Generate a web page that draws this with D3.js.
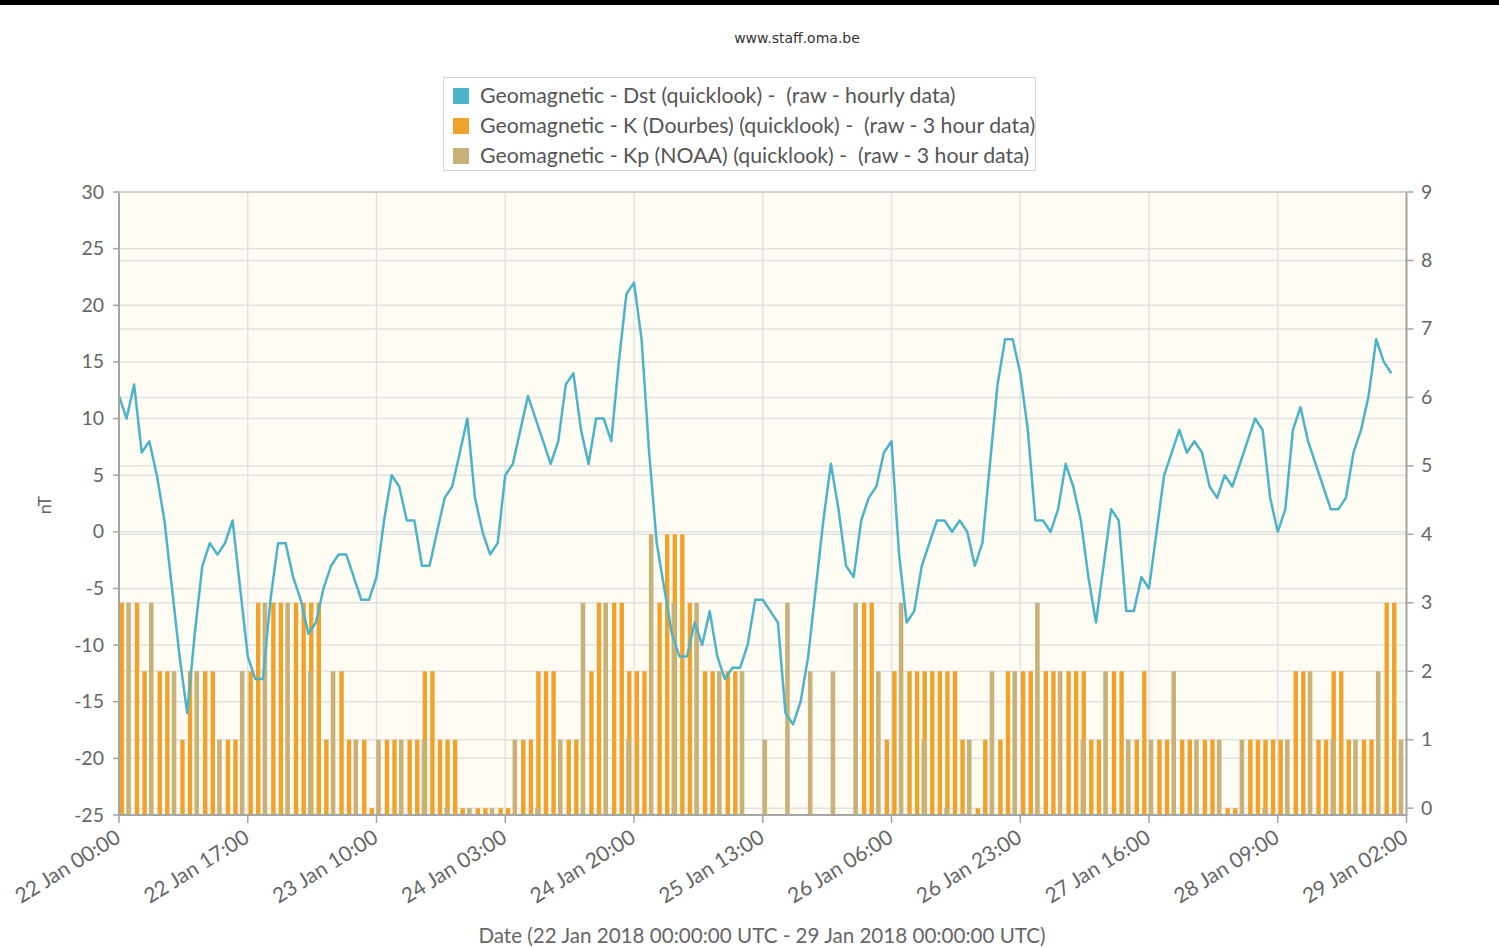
<!DOCTYPE html>
<html>
<head>
<meta charset="utf-8">
<script src="https://cdn.jsdelivr.net/npm/d3@7.9.0/dist/d3.min.js"></script>
<style>
  body { margin: 0; background: #fff; }
  svg { display: block; font-family: Lato, "Open Sans", sans-serif; }
  .pre { white-space: pre; }
</style>
</head>
<body>
<svg id="chart" width="1499" height="947"></svg>
<script>
// Dst (nT), hourly from 22 Jan 2018 00:00 UTC
const dstValues = [
  12, 10, 13, 7, 8, 5, 1, -5, -11, -16,
  -9, -3, -1, -2, -1, 1, -5, -11, -13, -13,
  -6, -1, -1, -4, -6, -9, -8, -5, -3, -2,
  -2, -4, -6, -6, -4, 1, 5, 4, 1, 1,
  -3, -3, 0, 3, 4, 7, 10, 3, 0, -2,
  -1, 5, 6, 9, 12, 10, 8, 6, 8, 13,
  14, 9, 6, 10, 10, 8, 15, 21, 22, 17,
  7, -1, -5, -9, -11, -11, -8, -10, -7, -11,
  -13, -12, -12, -10, -6, -6, -7, -8, -16, -17,
  -15, -11, -5, 1, 6, 2, -3, -4, 1, 3,
  4, 7, 8, -2, -8, -7, -3, -1, 1, 1,
  0, 1, 0, -3, -1, 6, 13, 17, 17, 14,
  9, 1, 1, 0, 2, 6, 4, 1, -4, -8,
  -3, 2, 1, -7, -7, -4, -5, 0, 5, 7,
  9, 7, 8, 7, 4, 3, 5, 4, 6, 8,
  10, 9, 3, 0, 2, 9, 11, 8, 6, 4,
  2, 2, 3, 7, 9, 12, 17, 15, 14
];

// K Dourbes, one value per hour slot (null = no bar visible)
const kValues = [
  3, null, 3, 2, null, 2, 2, null, 1, 2,
  null, 2, 2, null, 1, 1, null, 2, 3, null,
  3, 3, null, 3, 3, 3, 3, 1, null, 2,
  1, null, 1, 0, null, 1, 1, null, 1, 1,
  2, 2, 1, 1, 1, 0, null, 0, 0, null,
  0, 0, null, 1, 1, 2, 2, 2, null, 1,
  1, null, 2, 3, null, 3, 3, 2, 2, 2,
  null, 3, 4, 4, 4, 3, null, 2, 2, null,
  2, 2, null, null, null, null, null, null, null, null,
  null, null, null, null, null, null, null, null, 3, 3,
  null, 1, 2, null, 2, 2, 2, 2, 2, 2,
  2, 1, null, 0, 1, null, 1, 2, null, 2,
  2, null, 2, 2, null, 2, 2, 2, 1, 1,
  null, 2, 2, null, 1, 2, null, 1, 1, null,
  1, 1, null, 1, 1, null, 0, 0, null, 1,
  1, 1, 1, 1, null, 2, 2, null, 1, 1,
  2, 2, 1, null, 1, 1, null, 3, 3, null
];

// Kp NOAA, every 3 hours starting 22 Jan 01:00
const kpValues = [
  3, 3, 2, 2, 1, 2, 3, 3, 2, 2,
  1, 1, 1, 1, 0, 0, 0, 1, 0, 1,
  3, 3, 1, 4, 3, 3, 2, 2, 1, 3,
  2, 2, 3, 2, 3, 1, 0, 1, 2, 2,
  3, 2, 1, 2, 1, 1, 2, 1, 1, 1,
  0, 1, 2, 1, 1, 2, 1
];

const xTickLabels = [
  '22 Jan 00:00', '22 Jan 17:00', '23 Jan 10:00', '24 Jan 03:00',
  '24 Jan 20:00', '25 Jan 13:00', '26 Jan 06:00', '26 Jan 23:00',
  '27 Jan 16:00', '28 Jan 09:00', '29 Jan 02:00'
];
const leftTicks = [30, 25, 20, 15, 10, 5, 0, -5, -10, -15, -20, -25];
const rightTicks = [0, 1, 2, 3, 4, 5, 6, 7, 8, 9];

const legendLabels = [
  'Geomagnetic - Dst (quicklook) -  (raw - hourly data)',
  'Geomagnetic - K (Dourbes) (quicklook) -  (raw - 3 hour data)',
  'Geomagnetic - Kp (NOAA) (quicklook) -  (raw - 3 hour data)'
];
const colors = ['#4db3c8', '#f0a22b', '#c8b27a'];

const svg = d3.select('#chart');
const margin = { left: 119, right: 1406.5, top: 192, bottom: 815 };
const parseTick = d3.utcParse('%d %b %H:%M %Y');
const tickDates = xTickLabels.map((l) => parseTick(l + ' 2018'));
const start = tickDates[0];
const hour = (h) => d3.utcHour.offset(start, h);

let x = d3.scaleUtc()
  .domain([tickDates[0], tickDates[tickDates.length - 1]])
  .range([margin.left, margin.right]);
let yLeft = d3.scaleLinear().domain([-25, 30]).range([margin.bottom, margin.top]);
let yRight = d3.scaleLinear().domain([-0.1, 9]).range([margin.bottom, margin.top]);

// top dark strip of the screenshot
svg.append('rect').attr('x', 0).attr('y', 0).attr('width', 1499).attr('height', 5).attr('fill', '#000');

// credit
svg.append('text')
  .attr('x', 797).attr('y', 43)
  .attr('text-anchor', 'middle')
  .style('font-family', 'DejaVu Sans, sans-serif')
  .style('font-size', '14px')
  .attr('fill', '#333')
  .text('www.staff.oma.be');

// plot background
svg.append('rect')
  .attr('x', margin.left).attr('y', margin.top)
  .attr('width', margin.right - margin.left)
  .attr('height', margin.bottom - margin.top)
  .attr('fill', '#fffcf4');

// grid lines
let grid = svg.append('g').attr('stroke', '#e2e2e2').attr('stroke-width', 1.5);
leftTicks.forEach((t) => {
  grid.append('line')
    .attr('x1', margin.left).attr('x2', margin.right)
    .attr('y1', yLeft(t)).attr('y2', yLeft(t));
});
rightTicks.forEach((t) => {
  grid.append('line')
    .attr('x1', margin.left).attr('x2', margin.right)
    .attr('y1', yRight(t)).attr('y2', yRight(t));
});
tickDates.forEach((d) => {
  grid.append('line')
    .attr('x1', x(d)).attr('x2', x(d))
    .attr('y1', margin.top).attr('y2', margin.bottom);
});

// K bars (orange), then Kp bars (tan) on top
let kData = kValues.map((v, i) => ({ t: hour(i), v })).filter((d) => d.v !== null);
svg.append('g').selectAll('rect')
  .data(kData)
  .join('rect')
  .attr('x', (d) => x(d.t) + 0.7)
  .attr('width', 4.4)
  .attr('y', (d) => yRight(d.v))
  .attr('height', (d) => yRight(-0.1) - yRight(d.v))
  .attr('fill', colors[1]);

let kpData = kpValues.map((v, i) => ({ t: hour(i * 3 + 1), v }));
svg.append('g').selectAll('rect')
  .data(kpData)
  .join('rect')
  .attr('x', (d) => x(d.t) - 0.3)
  .attr('width', 4.6)
  .attr('y', (d) => yRight(d.v))
  .attr('height', (d) => yRight(-0.1) - yRight(d.v))
  .attr('fill', colors[2]);

// Dst line
let line = d3.line()
  .x((d, i) => x(hour(i)))
  .y((d) => yLeft(d));
svg.append('path')
  .datum(dstValues)
  .attr('d', line)
  .attr('fill', 'none')
  .attr('stroke', colors[0])
  .attr('stroke-width', 2.5)
  .attr('stroke-linejoin', 'round');

// axis lines
let axisColor = '#a5a5a5';
svg.append('line').attr('x1', margin.left).attr('x2', margin.left)
  .attr('y1', margin.top).attr('y2', margin.bottom + 1)
  .attr('stroke', axisColor).attr('stroke-width', 2);
svg.append('line').attr('x1', margin.right).attr('x2', margin.right)
  .attr('y1', margin.top).attr('y2', margin.bottom + 1)
  .attr('stroke', axisColor).attr('stroke-width', 2);
svg.append('line').attr('x1', margin.left).attr('x2', margin.right)
  .attr('y1', margin.bottom).attr('y2', margin.bottom)
  .attr('stroke', axisColor).attr('stroke-width', 2);
svg.append('line').attr('x1', margin.left).attr('x2', margin.right)
  .attr('y1', margin.top).attr('y2', margin.top)
  .attr('stroke', '#c8c8c8').attr('stroke-width', 1.5);

// left axis labels
let labelColor = '#666';
leftTicks.forEach((t) => {
  svg.append('line')
    .attr('x1', margin.left - 6).attr('x2', margin.left)
    .attr('y1', yLeft(t)).attr('y2', yLeft(t))
    .attr('stroke', axisColor).attr('stroke-width', 1.5);
  svg.append('text')
    .attr('x', 104).attr('y', yLeft(t) + 6.5)
    .attr('text-anchor', 'end')
    .style('font-size', '19.5px')
    .attr('fill', labelColor)
    .text(t);
});

// right axis labels
rightTicks.forEach((t) => {
  svg.append('line')
    .attr('x1', margin.right).attr('x2', margin.right + 7)
    .attr('y1', yRight(t)).attr('y2', yRight(t))
    .attr('stroke', axisColor).attr('stroke-width', 1.5);
  svg.append('text')
    .attr('x', 1421).attr('y', yRight(t) + 6.5)
    .style('font-size', '19.5px')
    .attr('fill', labelColor)
    .text(t);
});

// x axis ticks and rotated labels
xTickLabels.forEach((l, i) => {
  let px = x(tickDates[i]);
  svg.append('line')
    .attr('x1', px).attr('x2', px)
    .attr('y1', margin.bottom).attr('y2', margin.bottom + 8)
    .attr('stroke', axisColor).attr('stroke-width', 1.5);
  svg.append('text')
    .attr('transform', `translate(${px + 3},${margin.bottom + 26}) rotate(-32)`)
    .attr('text-anchor', 'end')
    .style('font-size', '21px')
    .attr('fill', labelColor)
    .text(l);
});

// axis titles
svg.append('text')
  .attr('transform', 'translate(51,505) rotate(-90)')
  .attr('text-anchor', 'middle')
  .style('font-size', '18px')
  .attr('fill', labelColor)
  .text('nT');
svg.append('text')
  .attr('x', 762).attr('y', 943)
  .attr('text-anchor', 'middle')
  .style('font-size', '20.6px')
  .attr('fill', labelColor)
  .text('Date (22 Jan 2018 00:00:00 UTC - 29 Jan 2018 00:00:00 UTC)');

// legend
let legend = svg.append('g');
legend.append('rect')
  .attr('x', 443.5).attr('y', 77.5)
  .attr('width', 592).attr('height', 93)
  .attr('fill', '#fff')
  .attr('stroke', '#d5d5d5');
legendLabels.forEach((l, i) => {
  legend.append('rect')
    .attr('x', 453).attr('y', 88 + i * 30)
    .attr('width', 16).attr('height', 16)
    .attr('fill', colors[i]);
  legend.append('text')
    .attr('class', 'pre')
    .attr('x', 480).attr('y', 102.5 + i * 30)
    .style('font-size', '21.3px')
    .attr('fill', '#555')
    .text(l);
});
</script>
</body>
</html>
